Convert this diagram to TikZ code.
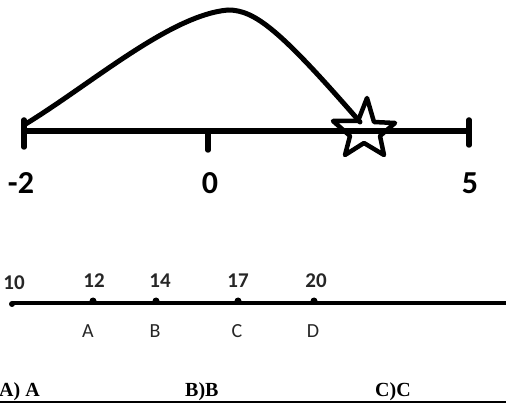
\documentclass[tikz,border=0pt]{standalone}
\usepackage{fontspec}
\newfontfamily\carl{Carlito}
\newfontfamily\ansfont{Liberation Serif}
\begin{document}
\begin{tikzpicture}[x=1pt,y=-1pt,
  axis/.style={line width=5.5pt},
  tickmark/.style={line width=5.5pt, line cap=round},
  arc/.style={line width=5pt, line cap=round},
  starline/.style={line width=4.5pt, line join=round},
  big/.style={font=\carl\bfseries\fontsize{32}{34}\selectfont, inner sep=0pt},
  small/.style={font=\carl\bfseries\fontsize{21}{23}\selectfont, inner sep=0pt, text=black!85},
  letter/.style={font=\carl\fontsize{20}{22}\selectfont, inner sep=0pt, text=black!85},
  answer/.style={font=\ansfont\bfseries\fontsize{20}{22}\selectfont, inner sep=0pt, anchor=base west},
  dot/.style={circle, fill=black, inner sep=0pt, minimum size=7pt}]
\useasboundingbox (0,0) rectangle (506,403);
% top number line
\coordinate (L) at (24,131);
\coordinate (M) at (208,131);
\coordinate (R) at (469,131);
\draw[axis] (L) -- (R);
\draw[tickmark] (L) ++(0,-11) -- ++(0,27);
\draw[tickmark] (M) ++(0,0) -- ++(0,19);
\draw[tickmark] (R) ++(0,-11) -- ++(0,25);
\node[big] (tm2) at (21,183) {-2};
\node[big] (t0) at (210,183) {0};
\node[big] (t5) at (470,183) {5};
% jump arc
\coordinate (cs) at (24,125);
\coordinate (peak) at (228,10);
\coordinate (ce) at (360,122);
\draw[arc] (cs) .. controls (90,85) and (170,15) .. (peak)
  .. controls (255,10) and (280,30) .. (ce);
% star
\draw[starline] (367,98) -- (374,122) -- (395,123) -- (380,136) -- (384,155)
  -- (364,143) -- (345,155) -- (350,136) -- (333,121) -- (358,121) -- cycle;
% bottom number line
\coordinate (b10) at (12,303);
\coordinate (bend) at (506,303);
\draw[line width=4pt] (b10) -- (bend);
\node[dot, minimum size=6pt] (d10) at (12,304) {};
\node[dot] (d12) at (93,301) {};
\node[dot] (d14) at (156,301) {};
\node[dot] (d17) at (238,301) {};
\node[dot] (d20) at (314,301) {};
\node[small] (n10) at (14,283) {10};
\node[small] (n12) at (94,281) {12};
\node[small] (n14) at (160,281) {14};
\node[small] (n17) at (238,281) {17};
\node[small] (n20) at (316,281) {20};
\node[letter] (lA) at (88,331) {A};
\node[letter] (lB) at (155,331) {B};
\node[letter] (lC) at (237,331) {C};
\node[letter] (lD) at (313,331) {D};
% answers
\node[answer] (aA) at (-1,396) {A) A};
\node[answer] (aB) at (185,396) {B)B};
\node[answer] (aC) at (375,396) {C)C};
\draw[line width=2pt] (0,402) -- (506,402);
\end{tikzpicture}
\end{document}
